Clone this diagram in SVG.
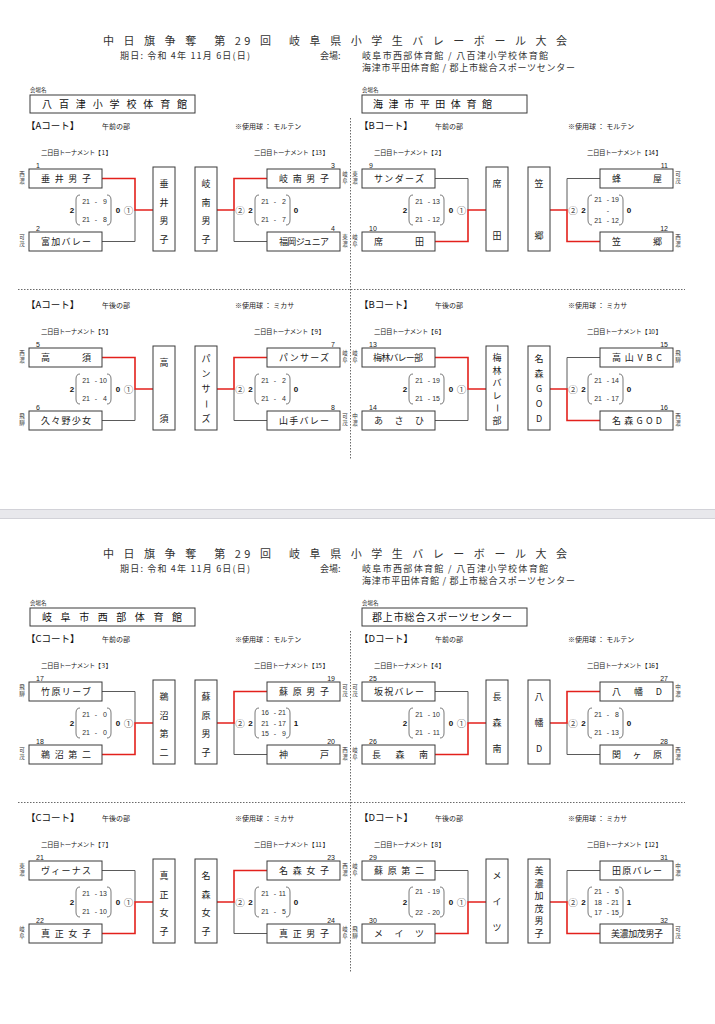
<svg xmlns="http://www.w3.org/2000/svg" width="715" height="1024" viewBox="0 0 715 1024">
<style>
.bx{fill:#fff;stroke:#3a3a3a;stroke-width:1}
.nm{font-family:"Noto Sans CJK JP",sans-serif;font-size:9px;fill:#222}
.vt{font-family:"Noto Sans CJK JP",sans-serif;font-size:9px;fill:#222;text-anchor:middle}
.no{font-family:"Liberation Sans",sans-serif;font-size:7px;fill:#222}
.rg{font-family:"Noto Sans CJK JP",sans-serif;font-size:5.5px;fill:#333;text-anchor:middle}
.ln{fill:none;stroke:#5a5a5a;stroke-width:1}
.wn{fill:none;stroke:#e3211c;stroke-width:1.6}
.pr{fill:none;stroke:#555;stroke-width:0.8}
.sc{font-family:"Liberation Sans",sans-serif;font-size:7px;fill:#333}
.se{text-anchor:end}
.sm{text-anchor:middle}
.bd{font-family:"Liberation Sans",sans-serif;font-size:8px;font-weight:bold;fill:#111;text-anchor:middle}
.ci{font-family:"Noto Sans CJK JP",sans-serif;font-size:9.5px;fill:#555;text-anchor:middle}
.hd{font-family:"Noto Sans CJK JP",sans-serif;font-size:9.5px;fill:#111}
.sub{font-family:"Noto Sans CJK JP",sans-serif;font-size:7px;fill:#222}
.lb{font-family:"Noto Sans CJK JP",sans-serif;font-size:6.5px;fill:#222}
.ti{font-family:"Noto Sans CJK JP",sans-serif;font-size:11px;fill:#333}
.tx{font-family:"Noto Sans CJK JP",sans-serif;font-size:9px;fill:#333}
.vn{font-family:"Noto Sans CJK JP",sans-serif;font-size:10px;fill:#111}
.vl{font-family:"Noto Sans CJK JP",sans-serif;font-size:5.5px;fill:#222}
.dt{fill:none;stroke:#444;stroke-width:0.8;stroke-dasharray:1.5 1.5}
</style>
<defs>
<path id="parL" class="pr" d="M51,26Q47,26 47,31V51Q47,56 51,56M78,26Q82,26 82,31V51Q82,56 78,56"/>
<path id="parR" class="pr" d="M230,26Q226,26 226,31V51Q226,56 230,56M257,26Q261,26 261,31V51Q261,56 257,56"/>
</defs>
<rect x="0" y="0" width="715" height="1024" fill="#fff"/>
<rect x="0" y="509" width="715" height="10" fill="#e8e8ec"/>
<path d="M0,509.5H715M0,518.5H715" stroke="#d2d2d8" stroke-width="1"/>

<!-- PAGE 1 -->
<g id="page1">
<g id="header-p1">
<text class="ti" x="103" y="45" textLength="464">中 日 旗 争 奪　第 29 回　岐 阜 県 小 学 生 バ レ ー ボ ー ル 大 会</text>
<text class="tx" x="120" y="59" textLength="130">期日: 令和 4年 11月 6日(日)</text>
<text class="tx" x="320" y="59">会場:</text>
<text class="tx" x="362" y="59" textLength="186">岐阜市西部体育館 / 八百津小学校体育館</text>
<text class="tx" x="362" y="71" textLength="213">海津市平田体育館 / 郡上市総合スポーツセンター</text>
</g>
<g id="venue-p1-l"><text class="vl" x="30" y="92">会場名</text><rect class="bx" x="30" y="95" width="165" height="18"/><text class="vn" x="42" y="108" textLength="145">八 百 津 小 学 校 体 育 館</text></g>
<g id="venue-p1-r"><text class="vl" x="362" y="92">会場名</text><rect class="bx" x="362" y="95" width="165" height="18"/><text class="vn" x="373" y="108" textLength="119">海 津 市 平 田 体 育 館</text></g>
<path class="dt" d="M350.5,118V460M18,289.5H685"/>

<!-- A morning -->
<g id="p1-a-am" transform="translate(29,169)">
<text class="hd" x="-3" y="-40">【Aコート】</text><text class="sub" x="73" y="-40">午前の部</text><text class="sub" x="206" y="-40">※使用球 ： モルテン</text>
<text class="lb" x="12" y="-14.5" textLength="71">二日目トーナメント【 1 】</text><text class="lb" x="225" y="-14.5" textLength="75">二日目トーナメント【 13 】</text>
<g id="conn-1-13"><path class="ln" d="M73,72.5H106V41"/><path class="wn" d="M73,9.5H106V41H124"/><path class="ln" d="M205,41V72.5H238"/><path class="wn" d="M188,41H205V9.5H238"/></g>
<g id="team-1"><rect class="bx" x="0" y="0" width="73" height="19"/><text class="nm" x="12" y="13" textLength="50">垂井男子</text><text class="no" x="7" y="-1">1</text><text class="rg" x="-7" y="7">西<tspan x="-7" dy="7">濃</tspan></text></g>
<g id="team-2"><rect class="bx" x="0" y="63" width="73" height="19"/><text class="nm" x="12" y="76" textLength="50">富加バレー</text><text class="no" x="7" y="62">2</text><text class="rg" x="-7" y="70">可<tspan x="-7" dy="7">茂</tspan></text></g>
<g id="win-1"><rect class="bx" x="124" y="-2" width="22" height="84"/><text class="vt"><tspan x="135" y="18.4">垂</tspan><tspan x="135" y="36.9">井</tspan><tspan x="135" y="55.4">男</tspan><tspan x="135" y="73.9">子</tspan></text></g>
<g id="score-1"><text class="bd" x="43" y="44">2</text><use href="#parL"/><text class="sc se" x="61" y="34.5">21</text><text class="sc sm" x="67" y="34.5">-</text><text class="sc se" x="78" y="34.5">9</text><text class="sc se" x="61" y="52.5">21</text><text class="sc sm" x="67" y="52.5">-</text><text class="sc se" x="78" y="52.5">8</text><text class="bd" x="89" y="44">0</text><text class="ci" x="99.5" y="44.5">①</text></g>
<g id="win-13"><rect class="bx" x="166" y="-2" width="22" height="84"/><text class="vt"><tspan x="177" y="18.4">岐</tspan><tspan x="177" y="36.9">南</tspan><tspan x="177" y="55.4">男</tspan><tspan x="177" y="73.9">子</tspan></text></g>
<g id="team-3"><rect class="bx" x="238" y="0" width="73" height="19"/><text class="nm" x="250" y="13" textLength="50">岐南男子</text><text class="no se" x="306" y="-1">3</text><text class="rg" x="316" y="7">岐<tspan x="316" dy="7">阜</tspan></text></g>
<g id="team-4"><rect class="bx" x="238" y="63" width="73" height="19"/><text class="nm" x="250" y="76" textLength="50">福岡ジュニア</text><text class="no se" x="306" y="62">4</text><text class="rg" x="316" y="70">東<tspan x="316" dy="7">濃</tspan></text></g>
<g id="score-13"><text class="ci" x="211" y="44.5">②</text><text class="bd" x="221.5" y="44">2</text><use href="#parR"/><text class="sc se" x="240" y="34.5">21</text><text class="sc sm" x="246" y="34.5">-</text><text class="sc se" x="257" y="34.5">2</text><text class="sc se" x="240" y="52.5">21</text><text class="sc sm" x="246" y="52.5">-</text><text class="sc se" x="257" y="52.5">7</text><text class="bd" x="267" y="44">0</text></g>
</g>

<!-- B morning -->
<g id="p1-b-am" transform="translate(362,169)">
<text class="hd" x="-3" y="-40">【Bコート】</text><text class="sub" x="73" y="-40">午前の部</text><text class="sub" x="206" y="-40">※使用球 ： モルテン</text>
<text class="lb" x="12" y="-14.5" textLength="71">二日目トーナメント【 2 】</text><text class="lb" x="225" y="-14.5" textLength="75">二日目トーナメント【 14 】</text>
<g id="conn-2-14"><path class="ln" d="M73,9.5H106V41"/><path class="wn" d="M73,72.5H106V41H124"/><path class="ln" d="M205,41V9.5H238"/><path class="wn" d="M188,41H205V72.5H238"/></g>
<g id="team-9"><rect class="bx" x="0" y="0" width="73" height="19"/><text class="nm" x="12" y="13" textLength="50">サンダーズ</text><text class="no" x="7" y="-1">9</text><text class="rg" x="-7" y="7">東<tspan x="-7" dy="7">濃</tspan></text></g>
<g id="team-10"><rect class="bx" x="0" y="63" width="73" height="19"/><text class="nm" x="12" y="76" textLength="50">席田</text><text class="no" x="7" y="62">10</text><text class="rg" x="-7" y="70">岐<tspan x="-7" dy="7">阜</tspan></text></g>
<g id="win-2"><rect class="bx" x="124" y="-2" width="22" height="84"/><text class="vt"><tspan x="135" y="18.4">席</tspan><tspan x="135" y="70.4">田</tspan></text></g>
<g id="score-2"><text class="bd" x="43" y="44">2</text><use href="#parL"/><text class="sc se" x="61" y="34.5">21</text><text class="sc sm" x="67" y="34.5">-</text><text class="sc se" x="78" y="34.5">13</text><text class="sc se" x="61" y="52.5">21</text><text class="sc sm" x="67" y="52.5">-</text><text class="sc se" x="78" y="52.5">12</text><text class="bd" x="89" y="44">0</text><text class="ci" x="99.5" y="44.5">①</text></g>
<g id="win-14"><rect class="bx" x="166" y="-2" width="22" height="84"/><text class="vt"><tspan x="177" y="18.4">笠</tspan><tspan x="177" y="70.4">郷</tspan></text></g>
<g id="team-11"><rect class="bx" x="238" y="0" width="73" height="19"/><text class="nm" x="250" y="13" textLength="50">蜂屋</text><text class="no se" x="306" y="-1">11</text><text class="rg" x="316" y="7">可<tspan x="316" dy="7">茂</tspan></text></g>
<g id="team-12"><rect class="bx" x="238" y="63" width="73" height="19"/><text class="nm" x="250" y="76" textLength="50">笠郷</text><text class="no se" x="306" y="62">12</text><text class="rg" x="316" y="70">西<tspan x="316" dy="7">濃</tspan></text></g>
<g id="score-14"><text class="ci" x="211" y="44.5">②</text><text class="bd" x="221.5" y="44">2</text><use href="#parR"/><text class="sc se" x="240" y="33">21</text><text class="sc sm" x="246" y="33">-</text><text class="sc se" x="257" y="33">19</text><text class="sc sm" x="246" y="43.5">-</text><text class="sc se" x="240" y="54">21</text><text class="sc sm" x="246" y="54">-</text><text class="sc se" x="257" y="54">12</text><text class="bd" x="267" y="44">0</text></g>
</g>

<!-- A afternoon -->
<g id="p1-a-pm" transform="translate(29,348)">
<text class="hd" x="-3" y="-40">【Aコート】</text><text class="sub" x="73" y="-40">午後の部</text><text class="sub" x="206" y="-40">※使用球 ： ミカサ</text>
<text class="lb" x="12" y="-14.5" textLength="71">二日目トーナメント【 5 】</text><text class="lb" x="225" y="-14.5" textLength="71">二日目トーナメント【 9 】</text>
<g id="conn-5-9"><path class="ln" d="M73,72.5H106V41"/><path class="wn" d="M73,9.5H106V41H124"/><path class="ln" d="M205,41V72.5H238"/><path class="wn" d="M188,41H205V9.5H238"/></g>
<g id="team-5"><rect class="bx" x="0" y="0" width="73" height="19"/><text class="nm" x="12" y="13" textLength="50">高須</text><text class="no" x="7" y="-1">5</text><text class="rg" x="-7" y="7">西<tspan x="-7" dy="7">濃</tspan></text></g>
<g id="team-6"><rect class="bx" x="0" y="63" width="73" height="19"/><text class="nm" x="12" y="76" textLength="50">久々野少女</text><text class="no" x="7" y="62">6</text><text class="rg" x="-7" y="70">飛<tspan x="-7" dy="7">騨</tspan></text></g>
<g id="win-5"><rect class="bx" x="124" y="-2" width="22" height="84"/><text class="vt"><tspan x="135" y="18.4">高</tspan><tspan x="135" y="73.9">須</tspan></text></g>
<g id="score-5"><text class="bd" x="43" y="44">2</text><use href="#parL"/><text class="sc se" x="61" y="34.5">21</text><text class="sc sm" x="67" y="34.5">-</text><text class="sc se" x="78" y="34.5">10</text><text class="sc se" x="61" y="52.5">21</text><text class="sc sm" x="67" y="52.5">-</text><text class="sc se" x="78" y="52.5">4</text><text class="bd" x="89" y="44">0</text><text class="ci" x="99.5" y="44.5">①</text></g>
<g id="win-9"><rect class="bx" x="166" y="-2" width="22" height="84"/><text class="vt"><tspan x="177" y="14.4">パ</tspan><tspan x="177" y="29.4">ン</tspan><tspan x="177" y="44.4">サ</tspan><tspan x="177" y="74.4">ズ</tspan></text><text class="vt" x="0" y="3.4" transform="translate(177,56) rotate(90)">ー</text></g>
<g id="team-7"><rect class="bx" x="238" y="0" width="73" height="19"/><text class="nm" x="250" y="13" textLength="50">パンサーズ</text><text class="no se" x="306" y="-1">7</text><text class="rg" x="316" y="7">岐<tspan x="316" dy="7">阜</tspan></text></g>
<g id="team-8"><rect class="bx" x="238" y="63" width="73" height="19"/><text class="nm" x="250" y="76" textLength="50">山手バレー</text><text class="no se" x="306" y="62">8</text><text class="rg" x="316" y="70">可<tspan x="316" dy="7">茂</tspan></text></g>
<g id="score-9"><text class="ci" x="211" y="44.5">②</text><text class="bd" x="221.5" y="44">2</text><use href="#parR"/><text class="sc se" x="240" y="34.5">21</text><text class="sc sm" x="246" y="34.5">-</text><text class="sc se" x="257" y="34.5">2</text><text class="sc se" x="240" y="52.5">21</text><text class="sc sm" x="246" y="52.5">-</text><text class="sc se" x="257" y="52.5">4</text><text class="bd" x="267" y="44">0</text></g>
</g>

<!-- B afternoon -->
<g id="p1-b-pm" transform="translate(362,348)">
<text class="hd" x="-3" y="-40">【Bコート】</text><text class="sub" x="73" y="-40">午後の部</text><text class="sub" x="206" y="-40">※使用球 ： ミカサ</text>
<text class="lb" x="12" y="-14.5" textLength="71">二日目トーナメント【 6 】</text><text class="lb" x="225" y="-14.5" textLength="75">二日目トーナメント【 10 】</text>
<g id="conn-6-10"><path class="ln" d="M73,72.5H106V41"/><path class="wn" d="M73,9.5H106V41H124"/><path class="ln" d="M205,41V9.5H238"/><path class="wn" d="M188,41H205V72.5H238"/></g>
<g id="team-13"><rect class="bx" x="0" y="0" width="73" height="19"/><text class="nm" x="11" y="13" textLength="50">梅林バレー部</text><text class="no" x="7" y="-1">13</text><text class="rg" x="-7" y="7">岐<tspan x="-7" dy="7">阜</tspan></text></g>
<g id="team-14"><rect class="bx" x="0" y="63" width="73" height="19"/><text class="nm" x="12" y="76" textLength="50">あさひ</text><text class="no" x="7" y="62">14</text><text class="rg" x="-7" y="70">中<tspan x="-7" dy="7">濃</tspan></text></g>
<g id="win-6"><rect class="bx" x="124" y="-2" width="22" height="84"/><text class="vt"><tspan x="135" y="13.4">梅</tspan><tspan x="135" y="25.9">林</tspan><tspan x="135" y="38.4">バ</tspan><tspan x="135" y="50.9">レ</tspan><tspan x="135" y="75.9">部</tspan></text><text class="vt" x="0" y="3.4" transform="translate(135,60) rotate(90)">ー</text></g>
<g id="score-6"><text class="bd" x="43" y="44">2</text><use href="#parL"/><text class="sc se" x="61" y="34.5">21</text><text class="sc sm" x="67" y="34.5">-</text><text class="sc se" x="78" y="34.5">19</text><text class="sc se" x="61" y="52.5">21</text><text class="sc sm" x="67" y="52.5">-</text><text class="sc se" x="78" y="52.5">15</text><text class="bd" x="89" y="44">0</text><text class="ci" x="99.5" y="44.5">①</text></g>
<g id="win-10"><rect class="bx" x="166" y="-2" width="22" height="84"/><text class="vt"><tspan x="177" y="14.4">名</tspan><tspan x="177" y="29.4">森</tspan><tspan x="177" y="44.4">G</tspan><tspan x="177" y="59.4">O</tspan><tspan x="177" y="74.4">D</tspan></text></g>
<g id="team-15"><rect class="bx" x="238" y="0" width="73" height="19"/><text class="nm" x="250" y="13" textLength="50">高山VBC</text><text class="no se" x="306" y="-1">15</text><text class="rg" x="316" y="7">飛<tspan x="316" dy="7">騨</tspan></text></g>
<g id="team-16"><rect class="bx" x="238" y="63" width="73" height="19"/><text class="nm" x="250" y="76" textLength="50">名森GOD</text><text class="no se" x="306" y="62">16</text><text class="rg" x="316" y="70">西<tspan x="316" dy="7">濃</tspan></text></g>
<g id="score-10"><text class="ci" x="211" y="44.5">②</text><text class="bd" x="221.5" y="44">2</text><use href="#parR"/><text class="sc se" x="240" y="34.5">21</text><text class="sc sm" x="246" y="34.5">-</text><text class="sc se" x="257" y="34.5">14</text><text class="sc se" x="240" y="52.5">21</text><text class="sc sm" x="246" y="52.5">-</text><text class="sc se" x="257" y="52.5">17</text><text class="bd" x="267" y="44">0</text></g>
</g>
</g>

<!-- PAGE 2 -->
<g id="page2" transform="translate(0,513)">
<g id="header-p2">
<text class="ti" x="103" y="45" textLength="464">中 日 旗 争 奪　第 29 回　岐 阜 県 小 学 生 バ レ ー ボ ー ル 大 会</text>
<text class="tx" x="120" y="59" textLength="130">期日: 令和 4年 11月 6日(日)</text>
<text class="tx" x="320" y="59">会場:</text>
<text class="tx" x="362" y="59" textLength="186">岐阜市西部体育館 / 八百津小学校体育館</text>
<text class="tx" x="362" y="71" textLength="213">海津市平田体育館 / 郡上市総合スポーツセンター</text>
</g>
<g id="venue-p2-l"><text class="vl" x="30" y="92">会場名</text><rect class="bx" x="30" y="95" width="165" height="18"/><text class="vn" x="42" y="108" textLength="140">岐 阜 市 西 部 体 育 館</text></g>
<g id="venue-p2-r"><text class="vl" x="362" y="92">会場名</text><rect class="bx" x="362" y="95" width="165" height="18"/><text class="vn" x="372" y="108" textLength="140">郡上市総合スポーツセンター</text></g>
<path class="dt" d="M350.5,118V460M18,289.5H685"/>

<!-- C morning -->
<g id="p2-c-am" transform="translate(29,169)">
<text class="hd" x="-3" y="-40">【Cコート】</text><text class="sub" x="73" y="-40">午前の部</text><text class="sub" x="206" y="-40">※使用球 ： モルテン</text>
<text class="lb" x="12" y="-14.5" textLength="71">二日目トーナメント【 3 】</text><text class="lb" x="225" y="-14.5" textLength="75">二日目トーナメント【 15 】</text>
<g id="conn-3-15"><path class="ln" d="M73,9.5H106V41"/><path class="wn" d="M73,72.5H106V41H124"/><path class="ln" d="M205,41V72.5H238"/><path class="wn" d="M188,41H205V9.5H238"/></g>
<g id="team-17"><rect class="bx" x="0" y="0" width="73" height="19"/><text class="nm" x="12" y="13" textLength="50">竹原リーブ</text><text class="no" x="7" y="-1">17</text><text class="rg" x="-7" y="7">飛<tspan x="-7" dy="7">騨</tspan></text></g>
<g id="team-18"><rect class="bx" x="0" y="63" width="73" height="19"/><text class="nm" x="12" y="76" textLength="50">鵜沼第二</text><text class="no" x="7" y="62">18</text><text class="rg" x="-7" y="70">可<tspan x="-7" dy="7">茂</tspan></text></g>
<g id="win-3"><rect class="bx" x="124" y="-2" width="22" height="84"/><text class="vt"><tspan x="135" y="18.4">鵜</tspan><tspan x="135" y="36.9">沼</tspan><tspan x="135" y="55.4">第</tspan><tspan x="135" y="73.9">二</tspan></text></g>
<g id="score-3"><text class="bd" x="43" y="44">2</text><use href="#parL"/><text class="sc se" x="61" y="34.5">21</text><text class="sc sm" x="67" y="34.5">-</text><text class="sc se" x="78" y="34.5">0</text><text class="sc se" x="61" y="52.5">21</text><text class="sc sm" x="67" y="52.5">-</text><text class="sc se" x="78" y="52.5">0</text><text class="bd" x="89" y="44">0</text><text class="ci" x="99.5" y="44.5">①</text></g>
<g id="win-15"><rect class="bx" x="166" y="-2" width="22" height="84"/><text class="vt"><tspan x="177" y="18.4">蘇</tspan><tspan x="177" y="36.9">原</tspan><tspan x="177" y="55.4">男</tspan><tspan x="177" y="73.9">子</tspan></text></g>
<g id="team-19"><rect class="bx" x="238" y="0" width="73" height="19"/><text class="nm" x="250" y="13" textLength="50">蘇原男子</text><text class="no se" x="306" y="-1">19</text><text class="rg" x="316" y="7">可<tspan x="316" dy="7">茂</tspan></text></g>
<g id="team-20"><rect class="bx" x="238" y="63" width="73" height="19"/><text class="nm" x="250" y="76" textLength="50">神戸</text><text class="no se" x="306" y="62">20</text><text class="rg" x="316" y="70">西<tspan x="316" dy="7">濃</tspan></text></g>
<g id="score-15"><text class="ci" x="211" y="44.5">②</text><text class="bd" x="221.5" y="44">2</text><use href="#parR"/><text class="sc se" x="240" y="33">16</text><text class="sc sm" x="246" y="33">-</text><text class="sc se" x="257" y="33">21</text><text class="sc se" x="240" y="43.5">21</text><text class="sc sm" x="246" y="43.5">-</text><text class="sc se" x="257" y="43.5">17</text><text class="sc se" x="240" y="54">15</text><text class="sc sm" x="246" y="54">-</text><text class="sc se" x="257" y="54">9</text><text class="bd" x="267" y="44">1</text></g>
</g>

<!-- D morning -->
<g id="p2-d-am" transform="translate(362,169)">
<text class="hd" x="-3" y="-40">【Dコート】</text><text class="sub" x="73" y="-40">午前の部</text><text class="sub" x="206" y="-40">※使用球 ： モルテン</text>
<text class="lb" x="12" y="-14.5" textLength="71">二日目トーナメント【 4 】</text><text class="lb" x="225" y="-14.5" textLength="75">二日目トーナメント【 16 】</text>
<g id="conn-4-16"><path class="ln" d="M73,9.5H106V41"/><path class="wn" d="M73,72.5H106V41H124"/><path class="ln" d="M205,41V72.5H238"/><path class="wn" d="M188,41H205V9.5H238"/></g>
<g id="team-25"><rect class="bx" x="0" y="0" width="73" height="19"/><text class="nm" x="12" y="13" textLength="50">坂祝バレー</text><text class="no" x="7" y="-1">25</text><text class="rg" x="-7" y="7">可<tspan x="-7" dy="7">茂</tspan></text></g>
<g id="team-26"><rect class="bx" x="0" y="63" width="73" height="19"/><text class="nm" x="10" y="76" textLength="56">長森南</text><text class="no" x="7" y="62">26</text><text class="rg" x="-7" y="70">岐<tspan x="-7" dy="7">阜</tspan></text></g>
<g id="win-4"><rect class="bx" x="124" y="-2" width="22" height="84"/><text class="vt"><tspan x="135" y="18.4">長</tspan><tspan x="135" y="44.4">森</tspan><tspan x="135" y="70.4">南</tspan></text></g>
<g id="score-4"><text class="bd" x="43" y="44">2</text><use href="#parL"/><text class="sc se" x="61" y="34.5">21</text><text class="sc sm" x="67" y="34.5">-</text><text class="sc se" x="78" y="34.5">10</text><text class="sc se" x="61" y="52.5">21</text><text class="sc sm" x="67" y="52.5">-</text><text class="sc se" x="78" y="52.5">11</text><text class="bd" x="89" y="44">0</text><text class="ci" x="99.5" y="44.5">①</text></g>
<g id="win-16"><rect class="bx" x="166" y="-2" width="22" height="84"/><text class="vt"><tspan x="177" y="18.4">八</tspan><tspan x="177" y="44.4">幡</tspan><tspan x="177" y="70.4">D</tspan></text></g>
<g id="team-27"><rect class="bx" x="238" y="0" width="73" height="19"/><text class="nm" x="250" y="13" textLength="50">八幡D</text><text class="no se" x="306" y="-1">27</text><text class="rg" x="316" y="7">中<tspan x="316" dy="7">濃</tspan></text></g>
<g id="team-28"><rect class="bx" x="238" y="63" width="73" height="19"/><text class="nm" x="250" y="76" textLength="50">関ヶ原</text><text class="no se" x="306" y="62">28</text><text class="rg" x="316" y="70">西<tspan x="316" dy="7">濃</tspan></text></g>
<g id="score-16"><text class="ci" x="211" y="44.5">②</text><text class="bd" x="221.5" y="44">2</text><use href="#parR"/><text class="sc se" x="240" y="34.5">21</text><text class="sc sm" x="246" y="34.5">-</text><text class="sc se" x="257" y="34.5">8</text><text class="sc se" x="240" y="52.5">21</text><text class="sc sm" x="246" y="52.5">-</text><text class="sc se" x="257" y="52.5">13</text><text class="bd" x="267" y="44">0</text></g>
</g>

<!-- C afternoon -->
<g id="p2-c-pm" transform="translate(29,348)">
<text class="hd" x="-3" y="-40">【Cコート】</text><text class="sub" x="73" y="-40">午後の部</text><text class="sub" x="206" y="-40">※使用球 ： ミカサ</text>
<text class="lb" x="12" y="-14.5" textLength="71">二日目トーナメント【 7 】</text><text class="lb" x="225" y="-14.5" textLength="75">二日目トーナメント【 11 】</text>
<g id="conn-7-11"><path class="ln" d="M73,9.5H106V41"/><path class="wn" d="M73,72.5H106V41H124"/><path class="ln" d="M205,41V72.5H238"/><path class="wn" d="M188,41H205V9.5H238"/></g>
<g id="team-21"><rect class="bx" x="0" y="0" width="73" height="19"/><text class="nm" x="12" y="13" textLength="50">ヴィーナス</text><text class="no" x="7" y="-1">21</text><text class="rg" x="-7" y="7">東<tspan x="-7" dy="7">濃</tspan></text></g>
<g id="team-22"><rect class="bx" x="0" y="63" width="73" height="19"/><text class="nm" x="12" y="76" textLength="50">真正女子</text><text class="no" x="7" y="62">22</text><text class="rg" x="-7" y="70">岐<tspan x="-7" dy="7">阜</tspan></text></g>
<g id="win-7"><rect class="bx" x="124" y="-2" width="22" height="84"/><text class="vt"><tspan x="135" y="18.4">真</tspan><tspan x="135" y="36.9">正</tspan><tspan x="135" y="55.4">女</tspan><tspan x="135" y="73.9">子</tspan></text></g>
<g id="score-7"><text class="bd" x="43" y="44">2</text><use href="#parL"/><text class="sc se" x="61" y="34.5">21</text><text class="sc sm" x="67" y="34.5">-</text><text class="sc se" x="78" y="34.5">13</text><text class="sc se" x="61" y="52.5">21</text><text class="sc sm" x="67" y="52.5">-</text><text class="sc se" x="78" y="52.5">10</text><text class="bd" x="89" y="44">0</text><text class="ci" x="99.5" y="44.5">①</text></g>
<g id="win-11"><rect class="bx" x="166" y="-2" width="22" height="84"/><text class="vt"><tspan x="177" y="18.4">名</tspan><tspan x="177" y="36.9">森</tspan><tspan x="177" y="55.4">女</tspan><tspan x="177" y="73.9">子</tspan></text></g>
<g id="team-23"><rect class="bx" x="238" y="0" width="73" height="19"/><text class="nm" x="250" y="13" textLength="50">名森女子</text><text class="no se" x="306" y="-1">23</text><text class="rg" x="316" y="7">西<tspan x="316" dy="7">濃</tspan></text></g>
<g id="team-24"><rect class="bx" x="238" y="63" width="73" height="19"/><text class="nm" x="250" y="76" textLength="50">真正男子</text><text class="no se" x="306" y="62">24</text><text class="rg" x="316" y="70">岐<tspan x="316" dy="7">阜</tspan></text></g>
<g id="score-11"><text class="ci" x="211" y="44.5">②</text><text class="bd" x="221.5" y="44">2</text><use href="#parR"/><text class="sc se" x="240" y="34.5">21</text><text class="sc sm" x="246" y="34.5">-</text><text class="sc se" x="257" y="34.5">11</text><text class="sc se" x="240" y="52.5">21</text><text class="sc sm" x="246" y="52.5">-</text><text class="sc se" x="257" y="52.5">5</text><text class="bd" x="267" y="44">0</text></g>
</g>

<!-- D afternoon -->
<g id="p2-d-pm" transform="translate(362,348)">
<text class="hd" x="-3" y="-40">【Dコート】</text><text class="sub" x="73" y="-40">午後の部</text><text class="sub" x="206" y="-40">※使用球 ： ミカサ</text>
<text class="lb" x="12" y="-14.5" textLength="71">二日目トーナメント【 8 】</text><text class="lb" x="225" y="-14.5" textLength="75">二日目トーナメント【 12 】</text>
<g id="conn-8-12"><path class="ln" d="M73,9.5H106V41"/><path class="wn" d="M73,72.5H106V41H124"/><path class="ln" d="M205,41V9.5H238"/><path class="wn" d="M188,41H205V72.5H238"/></g>
<g id="team-29"><rect class="bx" x="0" y="0" width="73" height="19"/><text class="nm" x="12" y="13" textLength="50">蘇原第二</text><text class="no" x="7" y="-1">29</text><text class="rg" x="-7" y="7">岐<tspan x="-7" dy="7">阜</tspan></text></g>
<g id="team-30"><rect class="bx" x="0" y="63" width="73" height="19"/><text class="nm" x="12" y="76" textLength="50">メイツ</text><text class="no" x="7" y="62">30</text><text class="rg" x="-7" y="70">飛<tspan x="-7" dy="7">騨</tspan></text></g>
<g id="win-8"><rect class="bx" x="124" y="-2" width="22" height="84"/><text class="vt"><tspan x="135" y="18.4">メ</tspan><tspan x="135" y="44.4">イ</tspan><tspan x="135" y="70.4">ツ</tspan></text></g>
<g id="score-8"><text class="bd" x="43" y="44">2</text><use href="#parL"/><text class="sc se" x="61" y="33">21</text><text class="sc sm" x="67" y="33">-</text><text class="sc se" x="78" y="33">19</text><text class="sc se" x="61" y="54">22</text><text class="sc sm" x="67" y="54">-</text><text class="sc se" x="78" y="54">20</text><text class="bd" x="89" y="44">0</text><text class="ci" x="99.5" y="44.5">①</text></g>
<g id="win-12"><rect class="bx" x="166" y="-2" width="22" height="84"/><text class="vt"><tspan x="177" y="13.4">美</tspan><tspan x="177" y="25.9">濃</tspan><tspan x="177" y="38.4">加</tspan><tspan x="177" y="50.9">茂</tspan><tspan x="177" y="63.4">男</tspan><tspan x="177" y="75.9">子</tspan></text></g>
<g id="team-31"><rect class="bx" x="238" y="0" width="73" height="19"/><text class="nm" x="250" y="13" textLength="50">田原バレー</text><text class="no se" x="306" y="-1">31</text><text class="rg" x="316" y="7">中<tspan x="316" dy="7">濃</tspan></text></g>
<g id="team-32"><rect class="bx" x="238" y="63" width="73" height="19"/><text class="nm" x="249" y="76" textLength="52">美濃加茂男子</text><text class="no se" x="306" y="62">32</text><text class="rg" x="316" y="70">可<tspan x="316" dy="7">茂</tspan></text></g>
<g id="score-12"><text class="ci" x="211" y="44.5">②</text><text class="bd" x="221.5" y="44">2</text><use href="#parR"/><text class="sc se" x="240" y="33">21</text><text class="sc sm" x="246" y="33">-</text><text class="sc se" x="257" y="33">5</text><text class="sc se" x="240" y="43.5">18</text><text class="sc sm" x="246" y="43.5">-</text><text class="sc se" x="257" y="43.5">21</text><text class="sc se" x="240" y="54">17</text><text class="sc sm" x="246" y="54">-</text><text class="sc se" x="257" y="54">15</text><text class="bd" x="267" y="44">1</text></g>
</g>
</g>
</svg>
